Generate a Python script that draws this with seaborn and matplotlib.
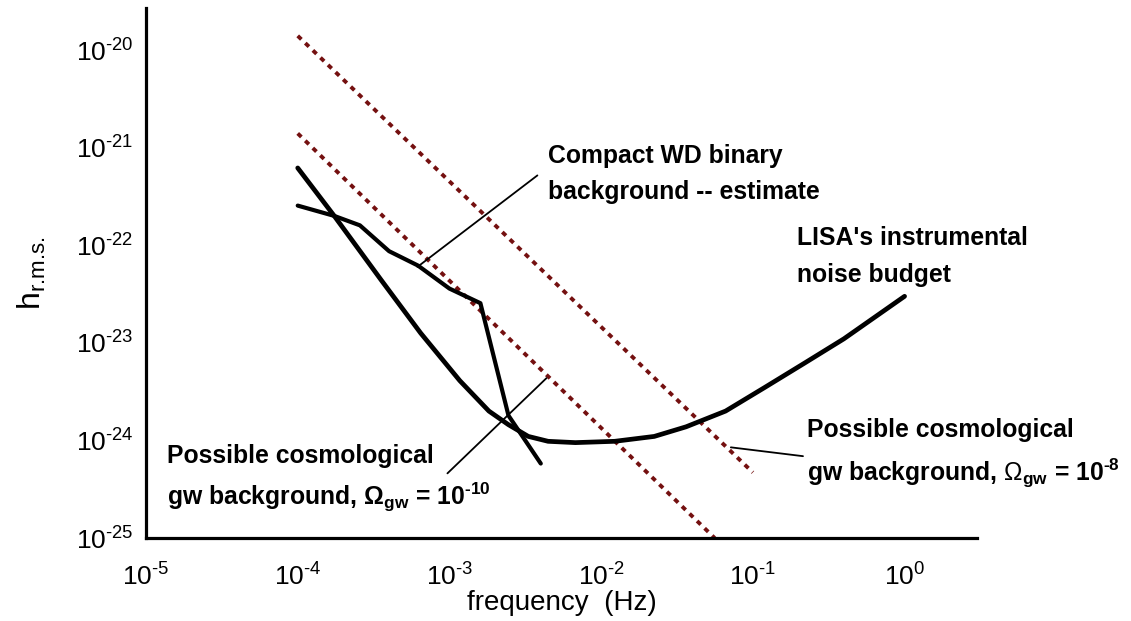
import math

import matplotlib
matplotlib.use("Agg")
import seaborn as sns
from matplotlib import pyplot as plt
from matplotlib.ticker import FuncFormatter, NullLocator

# LISA instrumental noise budget
noise_f = [1e-4, 1.74e-4, 3.55e-4, 6.46e-4, 1.17e-3, 1.82e-3, 2.45e-3, 3.31e-3, 4.47e-3,
           6.76e-3, 1.23e-2, 2.24e-2, 3.63e-2, 6.61e-2, 0.120, 0.219, 0.398, 1.0]
noise_h = [6.2e-22, 2.0e-22, 4.4e-23, 1.26e-23, 4.1e-24, 2.0e-24, 1.45e-24, 1.10e-24, 9.8e-25,
           9.5e-25, 9.8e-25, 1.10e-24, 1.38e-24, 2.0e-24, 3.5e-24, 6.2e-24, 1.10e-23, 3.0e-23]

# compact white-dwarf binary background estimate
wd_f = [1e-4, 1.74e-4, 2.57e-4, 4.0e-4, 6.2e-4, 1.0e-3, 1.6e-3, 2.45e-3, 4.0e-3]
wd_h = [2.55e-22, 2.0e-22, 1.6e-22, 8.7e-23, 6.2e-23, 3.6e-23, 2.55e-23, 1.8e-24, 5.8e-25]

# cosmological backgrounds (straight lines in log-log, end points)
om8_f = [1e-4, 1e-1]
om8_h = [1.4e-20, 4.7e-25]
om10_f = [1e-4, 5.6e-2]
om10_h = [1.4e-21, 1.0e-25]

x_ticks = [1e-5, 1e-4, 1e-3, 1e-2, 1e-1, 1e0]
y_ticks = [1e-25, 1e-24, 1e-23, 1e-22, 1e-21, 1e-20]

# leader lines: (curve point, text end)
lead_wd = [(6.15e-4, 6.0e-23), (3.8e-3, 5.2e-22)]
lead_om10 = [(4.36e-3, 4.35e-24), (9.7e-4, 4.6e-25)]
lead_om8 = [(7.16e-2, 8.5e-25), (0.214, 6.9e-25)]

sns.set_style("white")
plt.rcParams["font.family"] = ["Liberation Sans", "DejaVu Sans"]
plt.rcParams["mathtext.fontset"] = "custom"
plt.rcParams["mathtext.rm"] = "Liberation Sans"
plt.rcParams["mathtext.it"] = "Liberation Sans:italic"
plt.rcParams["mathtext.bf"] = "Liberation Sans:bold"
plt.rcParams["axes.unicode_minus"] = False
plt.rcParams["text.color"] = "black"
plt.rcParams["axes.labelcolor"] = "black"

HY = "\u2010"  # plain hyphen, so mathtext does not turn it into a wide minus


def pow10(v, pos=None):
    return r"10$^{\text{%d}}$" % round(math.log10(v))


fig = plt.figure(figsize=(11.31, 6.21), dpi=100)
ax = fig.add_axes([0.1291, 0.1336, 0.7347, 0.8535])
ax.set_xscale("log")
ax.set_yscale("log")

dot = (0, (1.3, 1.4))
red = "#741010"
sns.lineplot(x=om8_f, y=om8_h, ax=ax, color=red, lw=2.8, linestyle=dot,
             dash_capstyle="butt", estimator=None, sort=False)
sns.lineplot(x=om10_f, y=om10_h, ax=ax, color=red, lw=2.8, linestyle=dot,
             dash_capstyle="butt", estimator=None, sort=False)
sns.lineplot(x=wd_f, y=wd_h, ax=ax, color="black", lw=3.0,
             estimator=None, sort=False)
sns.lineplot(x=noise_f, y=noise_h, ax=ax, color="black", lw=3.4,
             estimator=None, sort=False)

for a, b in (lead_wd, lead_om10, lead_om8):
    ax.annotate("", xy=a, xytext=b,
                arrowprops=dict(arrowstyle="-", lw=1.3, color="black",
                                shrinkA=0, shrinkB=0))

kw = dict(fontsize=17.8, fontweight="bold", ha="left", va="baseline", color="black")
ax.text(4.44e-3, 6.95e-22, "Compact WD binary", **kw)
ax.text(4.44e-3, 2.97e-22, "background -- estimate", **kw)
ax.text(0.195, 1.0e-22, "LISA's instrumental", **kw)
ax.text(0.195, 4.2e-23, "noise budget", **kw)
ax.text(0.227, 1.08e-24, "Possible cosmological", **kw)
ax.text(0.227, 3.9e-25,
        r"gw background, $\Omega_{\mathbf{gw}}$ = 10$^{\mathbf{%s8}}$" % HY, **kw)
ax.text(1.38e-5, 5.9e-25, "Possible cosmological", **kw)
ax.text(1.38e-5, 2.2e-25,
        r"gw background, $\mathbf{\Omega_{gw}}$ = 10$^{\mathbf{%s10}}$" % HY, **kw)

ax.set_xlim(1e-5, 3.0)
ax.set_ylim(1e-25, 2.7e-20)
ax.set_xticks(x_ticks)
ax.set_yticks(y_ticks)
ax.xaxis.set_major_formatter(FuncFormatter(pow10))
ax.yaxis.set_major_formatter(FuncFormatter(pow10))
ax.xaxis.set_minor_locator(NullLocator())
ax.yaxis.set_minor_locator(NullLocator())
ax.tick_params(direction="in", length=6.5, width=1.0, color="#555555",
               labelsize=19, labelcolor="black")
ax.tick_params(axis="x", pad=18)
ax.tick_params(axis="y", pad=9)

for side in ("top", "right"):
    ax.spines[side].set_visible(False)
for side in ("left", "bottom"):
    ax.spines[side].set_linewidth(2.3)
    ax.spines[side].set_color("black")

ax.set_xlabel("frequency  (Hz)", fontsize=20, labelpad=0)
ax.set_ylabel(r"h$_{\text{r.m.s.}}$", fontsize=23, labelpad=20)
ax.grid(False)

fig.savefig("out.png", dpi=100)
